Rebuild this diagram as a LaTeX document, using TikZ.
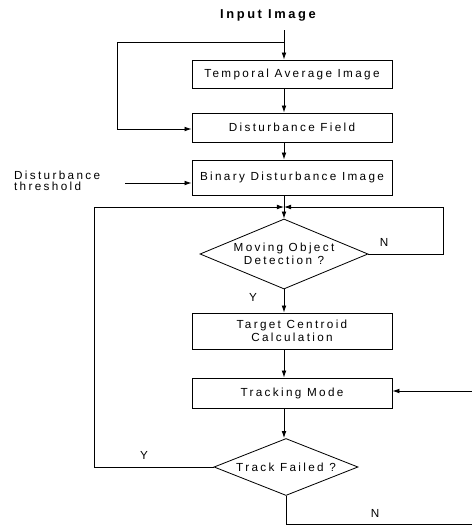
\documentclass[tikz,border=0pt]{standalone}
\usepackage{fontspec}
\setmainfont{Liberation Sans}[LetterSpace=20]
\usetikzlibrary{positioning, arrows.meta, shapes.geometric}

\begin{document}
\begin{tikzpicture}[
            x=0.03cm, y=-0.03cm,
            font=\fontsize{10}{11}\selectfont,
            box/.style={rectangle, draw, minimum width=6cm, inner sep=0pt, align=center, line width=0.7pt},
            decision/.style={diamond, draw, aspect=2.4, inner sep=0pt, align=center, line width=0.7pt},
            flow/.style={-{Latex[length=6pt, width=4pt]}, line width=0.7pt},
            wire/.style={-, line width=0.7pt}
        ]
        \useasboundingbox (0,0) rectangle (472,527);
        % Processing boxes
        \node[box, minimum height=0.84cm] (tavg) at (292,74) {Temporal Average Image};
        \node[box, minimum height=0.87cm] (dfield) at (292,127.5) {Disturbance Field};
        \node[box, minimum height=1.05cm] (binary) at (292,177.5) {Binary Disturbance Image};
        \node[box, minimum height=1.08cm] (centroid) at (292,331) {Target Centroid\\Calculation};
        \node[box, minimum height=0.9cm] (tracking) at (292,393) {Tracking Mode};
        % Decisions
        \node[decision, minimum width=5.04cm, minimum height=2.1cm] (moving) at (284,254) {Moving Object\\Detection ?};
        \node[decision, minimum width=4.32cm, minimum height=1.71cm] (failed) at (286,467) {Track Failed ?};
        % Texts
        \node[font=\fontsize{11}{12}\bfseries] (input) at (268,15) {Input Image};
        \node[anchor=west, align=left, font=\fontsize{10}{9}\selectfont] (thrlab) at (10,181) {Disturbance\\threshold};
        \node (ylab1) at (253,297) {Y};
        \node (nlab1) at (384,242) {N};
        \node (ylab2) at (144,455) {Y};
        \node (nlab2) at (375,513) {N};
        % Free ends and corners
        \coordinate (in) at (284,30);
        \coordinate (split) at (284,42);
        \coordinate (fb) at (117,129);
        \coordinate (thr) at (125,183);
        \coordinate (join) at (284,207);
        \coordinate (nloop) at (443,207);
        \coordinate (yloop) at (94,207);
        \coordinate (back) at (472,391);
        \coordinate (nout) at (472,524);
        % Connectors
        \draw[flow] (in) -- (in |- tavg.north);
        \draw[flow] (split) -| (fb) -- (fb -| dfield.west);
        \draw[flow] (tavg.south -| moving) -- (dfield.north -| moving);
        \draw[flow] (dfield.south -| moving) -- (binary.north -| moving);
        \draw[flow] (thr) -- (thr -| binary.west);
        \draw[wire] (binary.south -| moving) -- (join);
        \draw[flow] (join) -- (moving.north);
        \draw[flow] (moving.east) -| (nloop) -- (join);
        \draw[flow] (failed.west) -| (yloop) -- (join);
        \draw[flow] (moving.south) -- (moving.south |- centroid.north);
        \draw[flow] (centroid.south -| moving) -- (tracking.north -| moving);
        \draw[flow] (tracking.south -| moving) -- (failed.north -| moving);
        \draw[flow] (back) -- (back -| tracking.east);
        \draw[wire] (failed.south) |- (nout);
\end{tikzpicture}
\end{document}
